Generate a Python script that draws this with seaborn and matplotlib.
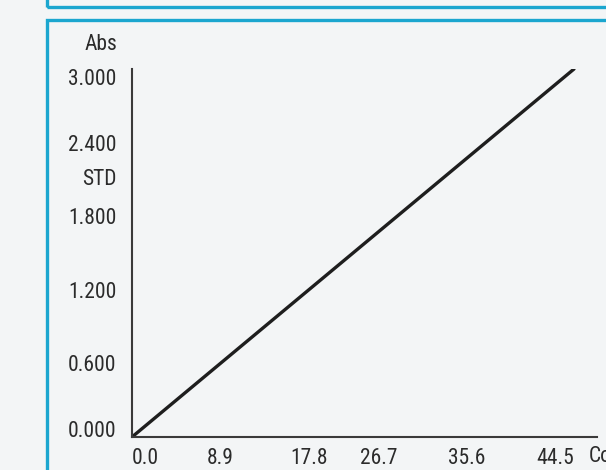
import matplotlib
matplotlib.use("Agg")
import matplotlib.pyplot as plt
from matplotlib.patches import Rectangle
import seaborn as sns
import pandas as pd

# calibration line
conc = [0.0, 44.5]
absorbance = [0.0, 3.0]

x_ticks = [0.0, 8.9, 17.8, 26.7, 35.6, 44.5]
x_labels = ["0.0", "8.9", "17.8", "26.7", "35.6", "44.5"]
y_ticks = [0.0, 0.6, 1.2, 1.8, 2.4, 3.0]
y_labels = ["0.000", "0.600", "1.200", "1.800", "2.400", "3.000"]
std_pos = 2.1

df = pd.DataFrame({"Conc": conc, "Abs": absorbance})

sns.set_style("white")
plt.rcParams["font.family"] = ["Roboto Condensed", "DejaVu Sans"]

bg = "#f3f5f6"
cyan = "#1ba6cf"
txt = "#2b2b2b"
fs = 15.5

W, H = 606, 470
fig = plt.figure(figsize=(W / 100, H / 100), dpi=100, facecolor=bg)

# cyan frames
fig.patches.append(Rectangle((46.5 / W, (H - 6.5) / H), 2, 1, transform=fig.transFigure,
                             fill=False, edgecolor=cyan, lw=2.4, zorder=0))
fig.patches.append(Rectangle((46.5 / W, -1), 2, (H - 20) / H + 1, transform=fig.transFigure,
                             fill=False, edgecolor=cyan, lw=2.4, zorder=0))

ax = fig.add_axes([132 / W, (H - 437) / H, (597 - 132) / W, (437 - 69) / H])
ax.set_facecolor("none")

sns.lineplot(data=df, x="Conc", y="Abs", ax=ax, color="#1e1e1e", lw=2.4)

ax.set_xlim(0, 44.5 * (597 - 132) / (574 - 132))
ax.set_ylim(0, 3.0)
ax.set_xticks(x_ticks)
ax.set_xticklabels(x_labels)
ax.set_yticks(y_ticks)
ax.set_yticklabels(y_labels)
ax.tick_params(length=0, labelsize=fs, colors=txt)
ax.tick_params(axis="x", pad=8)
ax.tick_params(axis="y", pad=11)
ax.set_xlabel("")
ax.set_ylabel("")

# label alignment like the original instrument printout
xl = ax.get_xticklabels()
xl[0].set_ha("left")
for t in xl[3:]:
    t.set_ha("right")
yl = ax.get_yticklabels()
yl[0].set_va("baseline")
yl[-1].set_va("top")

for s in ["top", "right"]:
    ax.spines[s].set_visible(False)
for s in ["left", "bottom"]:
    ax.spines[s].set_color("#3a3a3a")
    ax.spines[s].set_linewidth(1.5)

ax.text(-15 / 465 * ax.get_xlim()[1], std_pos, "STD", ha="right", va="center",
        fontsize=fs, color=txt)
fig.text(117 / W, 1 - 44 / H, "Abs", ha="right", va="center", fontsize=fs, color=txt)
fig.text(589 / W, 1 - 457 / H, "Conc", ha="left", va="center", fontsize=fs, color=txt)

fig.savefig("out.png", dpi=100, facecolor=bg)
